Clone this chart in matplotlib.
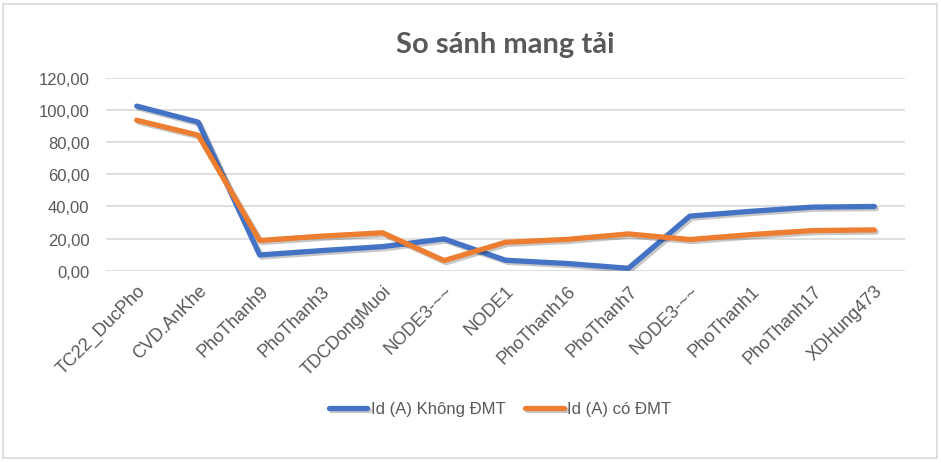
import matplotlib
matplotlib.use("Agg")
import matplotlib.pyplot as plt
import matplotlib.patheffects as pe
from matplotlib.patches import Rectangle
from matplotlib.ticker import FuncFormatter

categories = ["TC22_DucPho", "CVD.AnKhe", "PhoThanh9", "PhoThanh3", "TDCDongMuoi",
              "NODE3-~~", "NODE1", "PhoThanh16", "PhoThanh7", "NODE3-~~",
              "PhoThanh1", "PhoThanh17", "XDHung473"]
khong_dmt = [102.5, 92.5, 9.8, 12.5, 15.0, 19.8, 6.5, 4.5, 1.5, 34.0, 37.0, 39.6, 40.0]
co_dmt = [93.7, 84.4, 18.8, 21.5, 23.6, 6.3, 17.7, 19.5, 22.9, 19.4, 22.5, 25.0, 25.4]
series_names = ["Id (A) Không ĐMT", "Id (A) có ĐMT"]

BLUE = "#4472C4"
ORANGE = "#ED7D31"
GREY = "#595959"

plt.rcParams["font.family"] = ["Liberation Sans", "DejaVu Sans"]

fig = plt.figure(figsize=(9.41, 4.64), dpi=100)
ax = fig.add_axes([106 / 941, 1 - 271.7 / 464, (905 - 106) / 941, (271.7 - 79) / 464])

# outer chart border
fig.patches.append(Rectangle((3 / 941, 5 / 464), 934 / 941, 454 / 464, transform=fig.transFigure,
                             fill=False, edgecolor="#D9D9D9", linewidth=1.2))

x = range(len(categories))
shadow = [pe.SimpleLineShadow(offset=(1.5, -1.5), shadow_color="black", alpha=0.22), pe.Normal()]
ax.plot(x, khong_dmt, color=BLUE, lw=3.8, solid_capstyle="round", solid_joinstyle="round",
        label=series_names[0], path_effects=shadow)
ax.plot(x, co_dmt, color=ORANGE, lw=3.8, solid_capstyle="round", solid_joinstyle="round",
        label=series_names[1], path_effects=shadow)

ax.set_xlim(-0.5, len(categories) - 0.5)
ax.set_ylim(0, 120)
ax.set_yticks(range(0, 121, 20))
ax.yaxis.set_major_formatter(FuncFormatter(lambda v, p: f"{v:.2f}".replace(".", ",")))
ax.grid(axis="y", color="#D9D9D9", lw=1.2)
ax.set_axisbelow(True)
for s in ax.spines.values():
    s.set_visible(False)
ax.tick_params(axis="both", length=0, colors=GREY, labelsize=12)
ax.tick_params(axis="y", pad=12)
ax.tick_params(axis="x", pad=8, labelsize=13)
ax.set_xticks(list(x))
ax.set_xticklabels(categories, rotation=45, ha="right", rotation_mode="anchor")

fig.text(505 / 941, 1 - 45 / 464, "So sánh mang tải", ha="center", va="center",
         fontsize=21, fontweight="bold", color=GREY, family=["Lato", "DejaVu Sans"])

fig.legend(loc="center", bbox_to_anchor=(500 / 941, 1 - 410 / 464), ncol=2, frameon=False,
           fontsize=12, labelcolor=GREY, handlelength=2.3, handletextpad=0.2, columnspacing=1.2)

fig.savefig("out.png", dpi=100)
